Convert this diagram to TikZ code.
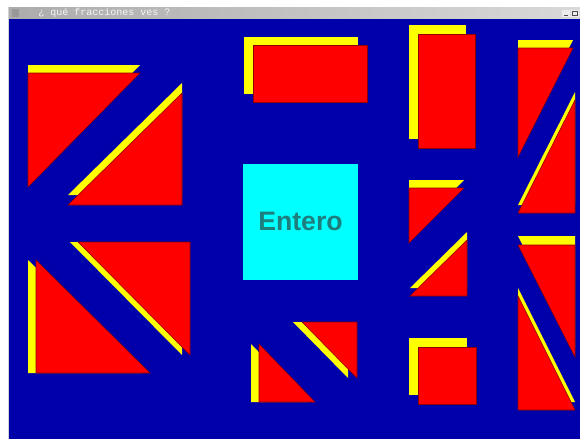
\documentclass[tikz,border=0pt]{standalone}
\usepackage{fontspec}
\setmainfont{Liberation Sans}
\newfontfamily\monof{Liberation Mono}
\definecolor{bgblue}{RGB}{0,0,170}
\definecolor{pred}{RGB}{255,0,0}
\definecolor{pyel}{RGB}{255,255,0}
\definecolor{pcyan}{RGB}{0,255,255}
\definecolor{ptext}{RGB}{30,125,125}
\begin{document}
\begin{tikzpicture}[x=0.75pt,y=-0.75pt,
  shadowpc/.style={fill=pyel},
  piece/.style={fill=pred, draw=red!55!black, line width=0.4pt, line join=miter}]
\useasboundingbox (0,0) rectangle (580,439);
\fill[white] (0,0) rectangle (580,439);
% title bar
\shade[left color=gray!65, right color=gray!30] (9,7) rectangle (580,19);
\fill[gray!80] (12,9) rectangle (19,17);
\node[anchor=west, inner sep=0pt, text=white!92!gray, font=\monof\fontsize{7.5}{8}\selectfont] (title) at (38,13) {¿ qué fracciones ves ?};
\fill[white!85!gray] (562,9.5) rectangle (569.5,17);
\draw[black!70, line width=0.5pt] (563.5,15.5) -- (567.5,15.5);
\fill[white!85!gray] (571,9.5) rectangle (578.5,17);
\draw[black!70, line width=0.5pt] (572.5,11) rectangle (577,15.5);
% background
\fill[bgblue] (9,19) rectangle (580,439);
\draw[gray!35, line width=0.8pt] (8.5,7) -- (8.5,439);

% left column
\fill[shadowpc, shift={(0,-8)}] (28,73) -- (140,73) -- (28,187) -- cycle;
\filldraw[piece] (28,73) -- (140,73) -- (28,187) -- cycle;
\fill[shadowpc, shift={(0,-10)}] (182,93) -- (182,205) -- (68,205) -- cycle;
\filldraw[piece] (182,93) -- (182,205) -- (68,205) -- cycle;
\fill[shadowpc, shift={(-8,0)}] (36,260) -- (36,373) -- (150,373) -- cycle;
\filldraw[piece] (36,260) -- (36,373) -- (150,373) -- cycle;
\fill[shadowpc, shift={(-8,0)}] (78,242) -- (190,242) -- (190,355) -- cycle;
\filldraw[piece] (78,242) -- (190,242) -- (190,355) -- cycle;

% middle column
\fill[shadowpc, shift={(-9,-8)}] (253,45) rectangle (367,102);
\filldraw[piece] (253,45) rectangle (367,102);
\fill[pcyan] (243,164) rectangle (358,280);
\node[text=ptext, font=\bfseries\fontsize{20}{24}\selectfont] (entero) at (300.5,221) {Entero};
\fill[shadowpc, shift={(-8,0)}] (259,344) -- (259,402) -- (315,402) -- cycle;
\filldraw[piece] (259,344) -- (259,402) -- (315,402) -- cycle;
\fill[shadowpc, shift={(-9,0)}] (302,322) -- (357,322) -- (357,378) -- cycle;
\filldraw[piece] (302,322) -- (357,322) -- (357,378) -- cycle;

% right-middle column
\fill[shadowpc, shift={(-9,-9)}] (418,34) rectangle (475,148);
\filldraw[piece] (418,34) rectangle (475,148);
\fill[shadowpc, shift={(0,-8)}] (409,188) -- (464,188) -- (409,243) -- cycle;
\filldraw[piece] (409,188) -- (464,188) -- (409,243) -- cycle;
\fill[shadowpc, shift={(0,-8)}] (467,240) -- (467,296) -- (410,296) -- cycle;
\filldraw[piece] (467,240) -- (467,296) -- (410,296) -- cycle;
\fill[shadowpc, shift={(-9,-9)}] (418,347) rectangle (476,404);
\filldraw[piece] (418,347) rectangle (476,404);

% right column
\fill[shadowpc, shift={(0,-8)}] (518,48) -- (573,48) -- (518,157) -- cycle;
\filldraw[piece] (518,48) -- (573,48) -- (518,157) -- cycle;
\fill[shadowpc, shift={(0,-8)}] (575,100) -- (575,213) -- (518,213) -- cycle;
\filldraw[piece] (575,100) -- (575,213) -- (518,213) -- cycle;
\fill[shadowpc, shift={(0,-9)}] (518,245) -- (575,245) -- (575,357) -- cycle;
\filldraw[piece] (518,245) -- (575,245) -- (575,357) -- cycle;
\fill[shadowpc, shift={(0,-8)}] (518,296) -- (518,410) -- (575,410) -- cycle;
\filldraw[piece] (518,296) -- (518,410) -- (575,410) -- cycle;
\end{tikzpicture}
\end{document}
